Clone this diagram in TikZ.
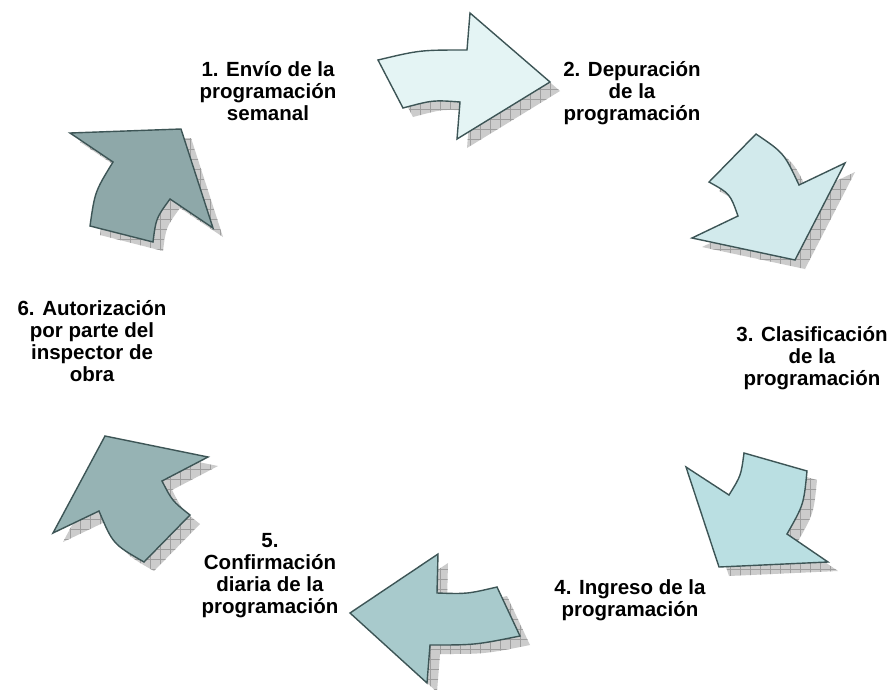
\documentclass[tikz,border=0pt]{standalone}
\usepackage{fontspec}
\setmainfont{Liberation Sans}
\usetikzlibrary{patterns.meta}
\definecolor{edge}{HTML}{3D5556}
\definecolor{cA}{HTML}{E4F4F4}
\definecolor{cB}{HTML}{D2EAEC}
\definecolor{cC}{HTML}{BADFE2}
\definecolor{cD}{HTML}{A8CACC}
\definecolor{cE}{HTML}{96B3B4}
\definecolor{cF}{HTML}{8EA8A9}
\newcommand\pathA{(378,60) .. controls (420,50) .. (467,50) -- (470,13) -- (550,82) -- (457,139) -- (460,102) .. controls (433,100) .. (403,108) -- cycle}
\newcommand\pathB{(756,134) .. controls (784,153) .. (799,185) -- (845,163) -- (795,260) -- (692,238) -- (738,216) .. controls (730,193.6) .. (709,182) -- cycle}
\newcommand\pathC{(744,453) -- (807,471) .. controls (803.7,504.6) .. (787,534) -- (828,562) -- (719,567) -- (686,467) -- (729,495) .. controls (741,475.6) .. cycle}
\newcommand\pathD{(438,554) -- (350,613) -- (427,683) -- (430,645) .. controls (475,645) .. (520,636) -- (497,587) .. controls (467,594) .. (437,593) -- cycle}
\newcommand\pathE{(105,436) -- (208,457) -- (162,481) .. controls (172.3,501) .. (190,515) -- (144,562) .. controls (112.9,544.1) .. (99,511) -- (53,533) -- cycle}
\newcommand\pathF{(70,133) -- (181,129) -- (213,228) -- (170,199) .. controls (156,218.3) .. (153,242) -- (90,226) .. controls (94.9,191.6) .. (113,162) -- cycle}
\tikzset{
  shadowbase/.style={fill=black!20},
  gridh/.style={pattern={Lines[distance=10pt,angle=0,line width=0.6pt]},pattern color=black!38},
  gridv/.style={pattern={Lines[distance=10pt,angle=90,line width=0.6pt]},pattern color=black!38},
  arrowbody/.style={draw=edge,line width=1.4pt,line join=miter},
  lbl/.style={font=\bfseries\fontsize{20.5}{22}\selectfont,align=center,inner sep=0pt,anchor=north,text=black}
}
\newcommand\shadowof[1]{%
  \fill[shadowbase,shift={(10,9)}] #1;
  \fill[gridh,shift={(10,9)}] #1;
  \fill[gridv,shift={(10,9)}] #1;}
\begin{document}
\begin{tikzpicture}[x=1pt,y=-1pt]
\useasboundingbox (0,0) rectangle (891,689);
\fill[white] (0,0) rectangle (891,689);
\shadowof{\pathA}
\shadowof{\pathB}
\shadowof{\pathC}
\shadowof{\pathD}
\shadowof{\pathE}
\shadowof{\pathF}
\filldraw[arrowbody,fill=cA] \pathA;
\filldraw[arrowbody,fill=cB] \pathB;
\filldraw[arrowbody,fill=cC] \pathC;
\filldraw[arrowbody,fill=cD] \pathD;
\filldraw[arrowbody,fill=cE] \pathE;
\filldraw[arrowbody,fill=cF] \pathF;
\node[lbl] (l1) at (268,61) {1. Envío de la\\programación\\semanal};
\node[lbl] (l2) at (632,61) {2. Depuración\\de la\\programación};
\node[lbl] (l3) at (812,326) {3. Clasificación\\de la\\programación};
\node[lbl] (l4) at (630,579) {4. Ingreso de la\\programación};
\node[lbl] (l5) at (270,533) {5.\\Confirmación\\diaria de la\\programación};
\node[lbl] (l6) at (92,300) {6. Autorización\\por parte del\\inspector de\\obra};
\end{tikzpicture}
\end{document}
